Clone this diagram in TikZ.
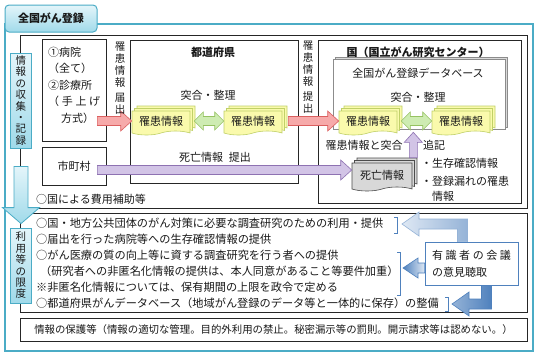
\documentclass[tikz,border=0pt]{standalone}
\usepackage{fontspec}
\setmainfont{Noto Sans CJK JP}
\usepackage{tikz}
\usetikzlibrary{positioning,calc,shapes.symbols,shadows}

\definecolor{frameteal}{RGB}{75,172,198}
\definecolor{tablight}{RGB}{228,245,250}
\definecolor{tabdark}{RGB}{160,218,234}
\definecolor{docfill}{RGB}{250,250,172}
\definecolor{docline}{RGB}{192,208,104}
\definecolor{greenfill}{RGB}{206,236,178}
\definecolor{greenline}{RGB}{150,194,98}
\definecolor{redfill}{RGB}{246,170,170}
\definecolor{redline}{RGB}{220,96,96}
\definecolor{purplefill}{RGB}{210,196,230}
\definecolor{purpleline}{RGB}{142,114,178}
\definecolor{deathfill}{RGB}{216,216,216}
\definecolor{bluedark}{RGB}{79,129,189}
\definecolor{bluemid}{RGB}{149,179,215}
\definecolor{bluelight}{RGB}{222,232,244}

\tikzset{
  frameline/.style={draw=frameteal, line width=1.5pt},
  tabbox/.style={draw=frameteal, line width=1pt, rounded corners=4pt,
    top color=tablight, bottom color=tabdark, minimum width=92pt,
    minimum height=27pt, text=black!90, font=\fontsize{11}{11}\selectfont\bfseries},
  vlabel/.style={draw=frameteal, line width=0.8pt, top color=tablight,
    bottom color=tabdark, minimum width=21pt, inner sep=1pt, align=center,
    text=black!90, font=\fontsize{10.5}{11.4}\selectfont},
  blackbox/.style={draw=black!85, line width=0.8pt, fill=white, text=black!90,
    drop shadow={shadow xshift=1.2pt, shadow yshift=-1.2pt, fill=black!45, opacity=0.8}},
  dbbox/.style={draw=black!45, line width=0.6pt, fill=white,
    copy shadow={shadow xshift=2pt, shadow yshift=2pt, draw=black!45, fill=black!15, line width=0.6pt}},
  stack/.style 2 args={shape=tape, tape bend top=none, tape bend height=4pt,
    draw=#1, fill=#2, line width=0.6pt, minimum width=58pt, minimum height=24pt,
    inner sep=0pt, text=black!90, font=\fontsize{11}{11}\selectfont,
    copy shadow={shadow xshift=5pt, shadow yshift=5pt, draw=#1, fill=#2, line width=0.6pt},
    copy shadow={shadow xshift=2.5pt, shadow yshift=2.5pt, draw=#1, fill=#2, line width=0.6pt}},
  redarr/.style={draw=redline, fill=redfill, line width=0.6pt},
  greenarr/.style={draw=greenline, fill=greenfill, line width=0.6pt},
  purplearr/.style={draw=purpleline, fill=purplefill, line width=0.6pt},
  bigarrow/.style={draw=frameteal, line width=0.8pt, top color=tablight, bottom color=tabdark},
  bluearr1/.style={draw=bluemid, line width=0.6pt, left color=bluelight, right color=bluemid},
  bluearr2/.style={draw=bluedark, line width=0.6pt, left color=bluedark, right color=bluelight},
  bluearr3/.style={draw=bluedark, line width=0.6pt, left color=bluemid, right color=bluedark},
  bracket/.style={draw=bluedark, line width=0.9pt},
  kaigibox/.style={draw=bluedark, line width=0.9pt, fill=white, minimum width=93pt,
    minimum height=43pt, inner sep=0pt, align=left, text=black!90,
    font=\fontsize{11}{17}\selectfont},
  lbl/.style={inner sep=0pt, text=black!90, font=\fontsize{11}{11}\selectfont},
  vtext/.style={inner sep=0pt, align=center, text=black!90, font=\fontsize{10.5}{12}\selectfont},
  usetext/.style={inner sep=0pt, anchor=west, text=black!90, font=\fontsize{11.2}{11.2}\selectfont},
}

% block arrow to the right, from #2 to the x of #3
\newcommand{\blockright}[3]{%
  \path[#1] let \p1=(#2), \p2=(#3) in
    (\x1,\y1+4.5pt) -- (\x2-11pt,\y1+4.5pt) -- (\x2-11pt,\y1+10pt) -- (\x2,\y1)
    -- (\x2-11pt,\y1-10pt) -- (\x2-11pt,\y1-4.5pt) -- (\x1,\y1-4.5pt) -- cycle;}
% block arrow with two heads
\newcommand{\blockboth}[3]{%
  \path[#1] let \p1=(#2), \p2=(#3) in
    (\x1,\y1) -- (\x1+9pt,\y1+9pt) -- (\x1+9pt,\y1+4.5pt) -- (\x2-9pt,\y1+4.5pt)
    -- (\x2-9pt,\y1+9pt) -- (\x2,\y1) -- (\x2-9pt,\y1-9pt) -- (\x2-9pt,\y1-4.5pt)
    -- (\x1+9pt,\y1-4.5pt) -- (\x1+9pt,\y1-9pt) -- cycle;}
% block arrow upwards
\newcommand{\blockup}[3]{%
  \path[#1] let \p1=(#2), \p2=(#3) in
    (\x1-4pt,\y1) -- (\x1-4pt,\y2-10pt) -- (\x1-9pt,\y2-10pt) -- (\x1,\y2)
    -- (\x1+9pt,\y2-10pt) -- (\x1+4pt,\y2-10pt) -- (\x1+4pt,\y1) -- cycle;}

\begin{document}
\begin{tikzpicture}[x=1pt,y=-1pt]
\useasboundingbox (0,0) rectangle (539,360);
% objects at depth 100:
\path[fill=white] (0,0) rectangle (539,360);
\draw[frameline] (5,24) rectangle (533,351);
\node[tabbox] (title) at (51,18.5) {全国がん登録};
% objects at depth 90:
\draw[blackbox] (20,35) rectangle (527,208);
\draw[blackbox] (20,213) rectangle (527,312);
\node[blackbox, minimum width=507pt, minimum height=23pt,
  font=\fontsize{10.4}{10.4}\selectfont] (protect) at (273.5,329.5)
  {情報の保護等（情報の適切な管理。目的外利用の禁止。秘密漏示等の罰則。開示請求等は認めない。）};
% objects at depth 80:
\node[blackbox, minimum width=64pt, minimum height=102pt] (hosp) at (74,90) {};
\node[blackbox, minimum width=64pt, minimum height=38pt,
  font=\fontsize{11}{11}\selectfont] (city) at (74,166) {市町村};
\node[blackbox, minimum width=168pt, minimum height=143pt] (pref) at (214,111.5) {};
\node[blackbox, minimum width=203pt, minimum height=163pt] (nation) at (419.5,121.5) {};
\node[dbbox, minimum width=172pt, minimum height=70pt] (db) at (419,94) {};
% objects at depth 70:
\node[vlabel, minimum height=95pt] (lbl1) at (21,100.5) {情\\報\\の\\収\\集\\・\\記\\録};
\node[vlabel, minimum height=75pt] (lbl2) at (21,265.5) {利\\用\\等\\の\\限\\度};
\path[bigarrow] let \p1=(lbl1.south), \p2=(lbl2.north) in
  (\x1-7pt,\y1-18pt) -- (\x1-7pt,\y2+20pt) -- (\x1-18.5pt,\y2+20pt) -- (\x1,\y2+4pt)
  -- (\x1+18.5pt,\y2+20pt) -- (\x1+7pt,\y2+20pt) -- (\x1+7pt,\y1-18pt) -- cycle;
% objects at depth 60:
\node[stack={docline}{docfill}] (pdoc1) at (161,121) {罹患情報};
\node[stack={docline}{docfill}] (pdoc2) at (253,121) {罹患情報};
\node[stack={docline}{docfill}] (ndoc1) at (368,121) {罹患情報};
\node[stack={docline}{docfill}] (ndoc2) at (461,121) {罹患情報};
\node[stack={black!70}{deathfill}, minimum width=60pt, minimum height=28pt] (death) at (382,175) {死亡情報};
% objects at depth 50:
\blockright{redarr}{$(hosp.east |- pdoc1.west)+(-9,0)$}{pdoc1.west}
\blockright{redarr}{$(pdoc2.east)+(6,0)$}{ndoc1.west}
\blockboth{greenarr}{$(pdoc1.east)+(4,0)$}{pdoc2.west}
\blockboth{greenarr}{$(ndoc1.east)+(4,0)$}{ndoc2.west}
\blockright{purplearr}{$(city.east)+(-9,4)$}{death.west}
\blockup{purplearr}{$(death.north east)+(1,-5)$}{$(db.south)+(0,3)$}
% objects at depth 40:
\node[lbl, font=\fontsize{11}{11}\selectfont\bfseries] (preft) at (213,52) {都道府県};
\node[lbl] (prefsort) at (208,95) {突合・整理};
\node[lbl, font=\fontsize{11}{11}\selectfont\bfseries] (nationt) at (418,52) {国（国立がん研究センター）};
\node[lbl] (dbt) at (418,73) {全国がん登録データベース};
\node[lbl] (dbsort) at (418,97) {突合・整理};
\node[lbl, align=left, anchor=north west, font=\fontsize{11}{16.5}\selectfont] (hosptext) at (48,46.5)
  {①病院\\（全て）\\②診療所\\\makebox[52pt][s]{（\hfil 手\hfil 上\hfil げ}\\\hspace*{13pt}方式）};
\node[vtext] (todoke) at (120,78) {罹\\患\\情\\報\\[3pt]届\\出};
\node[vtext] (teishutsu) at (308,77) {罹\\患\\情\\報\\[3pt]提\\出};
\node[lbl] (deatht) at (215,157) {死亡情報\hspace{6pt}提出};
\node[lbl] (match) at (364,145) {罹患情報と突合};
\node[lbl] (tsuiki) at (434,145) {追記};
\node[lbl, anchor=west] (bul1) at (421,163) {・生存確認情報};
\node[lbl, anchor=west] (bul2) at (421,181) {・登録漏れの罹患};
\node[lbl, anchor=west] (bul3) at (432,196) {情報};
\node[lbl, anchor=west] (subsidy) at (36,199) {○国による費用補助等};
% objects at depth 30:
\node[usetext] (use1) at (36,223) {○国・地方公共団体のがん対策に必要な調査研究のための利用・提供};
\node[usetext, below=16pt of use1.west, anchor=west] (use2) {○届出を行った病院等への生存確認情報の提供};
\node[usetext, below=16pt of use2.west, anchor=west] (use3) {○がん医療の質の向上等に資する調査研究を行う者への提供};
\node[usetext, below=16pt of use3.west, anchor=west, xshift=4pt] (use4) {（研究者への非匿名化情報の提供は、本人同意があること等要件加重）};
\node[usetext, below=16pt of use4.west, anchor=west, xshift=-4pt] (use5) {※非匿名化情報については、保有期間の上限を政令で定める};
\node[usetext, below=16pt of use5.west, anchor=west] (use6) {○都道府県がんデータベース（地域がん登録のデータ等と一体的に保存）の整備};
% objects at depth 20:
\draw[bracket] (394,217) -- (397,217) -- (397,233) -- (394,233);
\draw[bracket] (397,252) -- (400,252) -- (400,295) -- (397,295);
\draw[bracket] (445,297) -- (448,297) -- (448,311) -- (445,311);
\coordinate (br1) at (402,224);
\coordinate (br2) at (403,268);
\coordinate (br3) at (452,304);
\node[kaigibox] (kaigi) at (471.5,263.5)
  {\makebox[79pt][s]{有\hfil 識\hfil 者\hfil の\hfil 会\hfil 議}\\の意見聴取};
\path[bluearr1] let \p1=($(kaigi.north)+(-9,0)$), \p2=(br1) in
  (\x1-5pt,\y1) -- (\x1-5pt,\y2-5pt) -- (\x2+17pt,\y2-5pt) -- (\x2+17pt,\y2-12pt)
  -- (\x2,\y2) -- (\x2+17pt,\y2+12pt) -- (\x2+17pt,\y2+5pt) -- (\x1+5pt,\y2+5pt)
  -- (\x1+5pt,\y1) -- cycle;
\path[bluearr2] let \p1=($(kaigi.west)+(0,4.5)$), \p2=(br2) in
  (\x1,\y1+5pt) -- (\x2+15pt,\y1+5pt) -- (\x2+15pt,\y1+10pt) -- (\x2,\y1)
  -- (\x2+15pt,\y1-10pt) -- (\x2+15pt,\y1-5pt) -- (\x1,\y1-5pt) -- cycle;
\path[bluearr3] let \p1=($(kaigi.south)+(15,0)$), \p2=(br3) in
  (\x1-5pt,\y1) -- (\x1-5pt,\y2+5pt) -- (\x2+17pt,\y2+5pt) -- (\x2+17pt,\y2+12pt)
  -- (\x2,\y2) -- (\x2+17pt,\y2-12pt) -- (\x2+17pt,\y2-5pt) -- (\x1+5pt,\y2-5pt)
  -- (\x1+5pt,\y1) -- cycle;
\end{tikzpicture}
\end{document}
